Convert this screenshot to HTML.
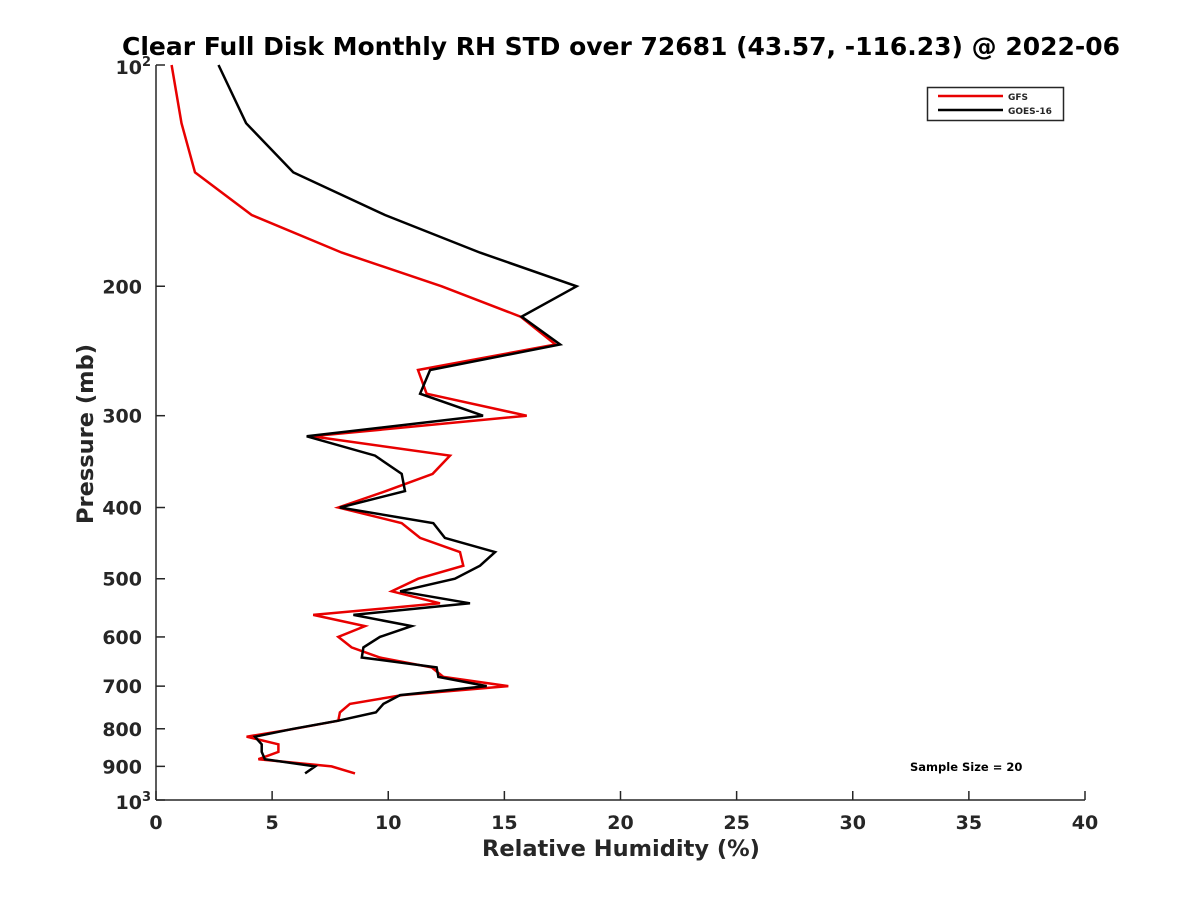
<!DOCTYPE html>
<html><head><meta charset="utf-8"><style>
body{margin:0;background:#fff;}
svg text{font-family:"DejaVu Sans","Liberation Sans",sans-serif;font-weight:bold;fill:#262626;}
</style></head><body>
<svg id="chart" width="1200" height="900" xmlns="http://www.w3.org/2000/svg">
<rect width="1200" height="900" fill="#fff"/>
<text x="621" y="55" text-anchor="middle" font-size="21" textLength="998" lengthAdjust="spacingAndGlyphs" style="fill:#000;font-size:25px">Clear Full Disk Monthly RH STD over 72681 (43.57, -116.23) @ 2022-06</text>
<g id="axes"></g>
<g id="series"></g>
<g>
<rect x="927.5" y="87.5" width="136" height="33" fill="#fff" stroke="#262626" stroke-width="1.5"/>
<line x1="938" y1="96" x2="1003" y2="96" stroke="#e80000" stroke-width="2.5"/>
<text x="1008" y="100" font-size="9">GFS</text>
<line x1="938" y1="110" x2="1003" y2="110" stroke="#000" stroke-width="2.5"/>
<text x="1008" y="114" font-size="9">GOES-16</text>
</g>
<text x="910" y="771" font-size="11.5" style="fill:#000">Sample Size = 20</text>
</svg>
<script>
const pressureLevels=[100,120,140,160,180,200,220,240,260,280,300,320,340,360,380,400,420,440,460,480,500,520,540,560,580,600,620,640,660,680,700,720,740,760,780,800,820,840,860,880,900,920];
const gfsValues=[0.67,1.1,1.68,4.12,8.0,12.3,15.7,17.2,11.28,11.65,15.96,6.7,12.66,11.91,9.9,7.85,10.58,11.37,13.09,13.23,11.29,10.15,12.23,6.77,9.0,7.85,8.42,9.64,11.87,12.37,15.17,10.6,8.35,7.92,7.85,5.96,3.9,5.27,5.27,4.41,7.56,8.57];
const goesValues=[2.69,3.88,5.91,9.86,13.95,18.11,15.74,17.4,11.8,11.37,14.08,6.49,9.43,10.58,10.72,7.92,11.94,12.44,14.6,13.95,12.87,10.51,13.52,8.5,11.01,9.64,8.93,8.86,12.08,12.16,14.24,10.51,9.79,9.47,7.85,5.91,4.26,4.55,4.55,4.69,6.85,6.42];
const xTicks=[0,5,10,15,20,25,30,35,40];
const yTicks=[200,300,400,500,600,700,800,900];
const NS="http://www.w3.org/2000/svg";
const X0=156,X1=1085,Y0=65,Y1=800;
function xs(v){return X0+(v-0)/(40-0)*(X1-X0);}
function ys(p){return Y0+Math.log10(p/100)*(Y1-Y0);}
function mk(tag,attrs,parent){const e=document.createElementNS(NS,tag);for(const k in attrs)e.setAttribute(k,attrs[k]);parent.appendChild(e);return e;}
const ax=document.getElementById('axes');
const xa=mk('line',{x1:X0,y1:Y1,x2:X1,y2:Y1,stroke:'#262626','stroke-width':1.5},ax);


const ya=mk('line',{x1:X0,y1:Y0,x2:X0,y2:Y1,stroke:'#262626','stroke-width':1.5},ax);


xTicks.forEach(v=>{
 const x=xs(v);
 mk('line',{x1:x,y1:Y1,x2:x,y2:Y1-9,stroke:'#262626','stroke-width':1.5},ax);
 const t=mk('text',{x:x,y:Y1+29,'text-anchor':'middle','font-size':19},ax);
 t.textContent=v;
 
 
});
[100,1000].forEach(p=>{const y=ys(p);mk('line',{x1:X0,y1:y,x2:X0+9,y2:y,stroke:'#262626','stroke-width':1.5},ax);});
yTicks.forEach(p=>{
 const y=ys(p);
 mk('line',{x1:X0,y1:y,x2:X0+9,y2:y,stroke:'#262626','stroke-width':1.5},ax);
 const t=mk('text',{x:X0-14,y:y+7,'text-anchor':'end','font-size':19},ax);
 t.textContent=p;
 
 
});
[[100,'2'],[1000,'3']].forEach(([p,e])=>{
 const y=ys(p);
 const t=mk('text',{x:X0-14,y:y+9,'text-anchor':'end','font-size':19},ax);
 t.textContent='10';
 
 
 const s=mk('text',{x:X0-14,y:y+1,'font-size':13},ax);
 s.textContent=e;
 
 
});
const xt=mk('text',{x:621,y:856,'text-anchor':'middle','font-size':22.5},ax);
xt.textContent='Relative Humidity (%)';


const yt=mk('text',{x:93,y:434,'text-anchor':'middle','font-size':22.5,transform:'rotate(-90 93 434)'},ax);
yt.textContent='Pressure (mb)';


const sg=document.getElementById('series');
function line(vals,color,name){
 const pts=vals.map((v,i)=>xs(v).toFixed(1)+','+ys(pressureLevels[i]).toFixed(1)).join(' ');
 const pl=mk('polyline',{points:pts,fill:'none',stroke:color,'stroke-width':2.5,'stroke-linejoin':'miter'},sg);
 
 
}
line(gfsValues,'#e80000','gfs-line');
line(goesValues,'#000','goes16-line');
</script>
</body></html>
